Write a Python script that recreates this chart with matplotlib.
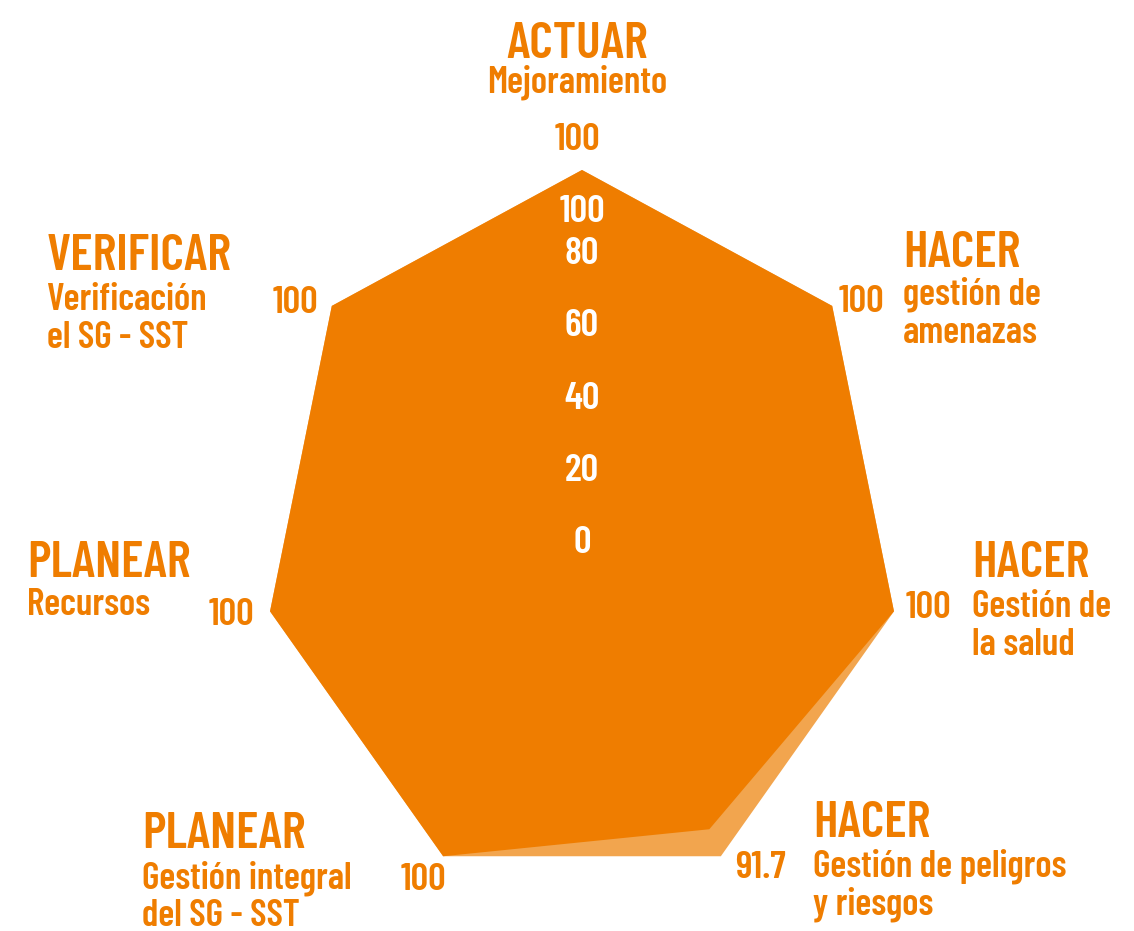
import numpy as np
import matplotlib.pyplot as plt
from matplotlib import font_manager

# categories clockwise from the top
fases = ['ACTUAR', 'HACER', 'HACER', 'HACER', 'PLANEAR', 'PLANEAR', 'VERIFICAR']
subtitulos = ['Mejoramiento', 'gestión de\namenazas', 'Gestión de\nla salud',
              'Gestión de peligros\ny riesgos', 'Gestión integral\ndel SG - SST',
              'Recursos', 'Verificación\nel SG - SST']
valores = [100, 100, 100, 91.7, 100, 100, 100]
maximo = [100, 100, 100, 100, 100, 100, 100]
ticks = [0, 20, 40, 60, 80, 100]

naranja = '#EF7D00'
naranja_claro = '#F2A54E'

W, H = 1134, 931
installed = {f.name for f in font_manager.fontManager.ttflist}
if 'Barlow Condensed' in installed:
    fuente, esc, peso = 'Barlow Condensed', 1.0, 'semibold'
else:
    fuente, esc, peso = 'DejaVu Sans', 0.62, 'bold'
s_main, s_sub, s_num = 37 * esc, 27 * esc, 28 * esc

fig = plt.figure(figsize=(W / 100, H / 100), dpi=100)
ax = fig.add_axes([0, 0, 1, 1])
# x: 3.2 px per unit, y: 3.61 px per unit, centre at (582, 531) px
ax.set_xlim(-582 / 3.2, (W - 582) / 3.2)
ax.set_ylim(-(H - 531) / 3.61, 531 / 3.61)
ax.axis('off')

n = len(valores)
ang = np.pi / 2 - np.arange(n) * 2 * np.pi / n


def poly(vals):
    r = np.array(vals)
    return r * np.cos(ang), r * np.sin(ang)


x, y = poly(maximo)
ax.fill(x, y, color=naranja_claro, lw=0)
x, y = poly(valores)
ax.fill(x, y, color=naranja, lw=0)


def px(xp, yp):
    return xp / W, 1 - yp / H


# radial tick labels (white, along the top spoke)
for t in ticks:
    if t == 100:
        fig.text(*px(582, 222), str(t), color='white', ha='center',
                 va='baseline', fontsize=s_num, fontweight=peso, family=fuente)
    else:
        ax.annotate(str(t), (0, t), xytext=(0, -22), textcoords='offset pixels',
                    color='white', ha='center', va='baseline', fontsize=s_num,
                    fontweight=peso, family=fuente)

# (phase x, phase baseline, sub line gap, ha, value x, value baseline, value ha)
etiquetas = [
    (577, 58, 35, 'center', 577, 150, 'center'),
    (903, 267, 38, 'left', 884, 312, 'right'),
    (972, 577, 40, 'left', 951, 618, 'right'),
    (813, 837, 40, 'left', 786, 878, 'right'),
    (142, 848, 40, 'left', 446, 890, 'right'),
    (27, 577, 38, 'left', 254, 625, 'right'),
    (47, 270, 40, 'left', 318, 313, 'right'),
]

for i, (fx, fy, gap, ha, vx, vy, vha) in enumerate(etiquetas):
    fig.text(*px(fx, fy), fases[i], color=naranja, ha=ha, va='baseline',
             fontsize=s_main, fontweight=peso, family=fuente)
    for j, linea in enumerate(subtitulos[i].split('\n')):
        fig.text(*px(fx, fy + gap + j * 38), linea, color=naranja, ha=ha,
                 va='baseline', fontsize=s_sub, fontweight=peso, family=fuente)
    v = valores[i]
    txt = str(int(v)) if v == int(v) else str(v)
    fig.text(*px(vx, vy), txt, color=naranja, ha=vha, va='baseline',
             fontsize=s_num, fontweight=peso, family=fuente)

fig.savefig('out.png', dpi=100)
